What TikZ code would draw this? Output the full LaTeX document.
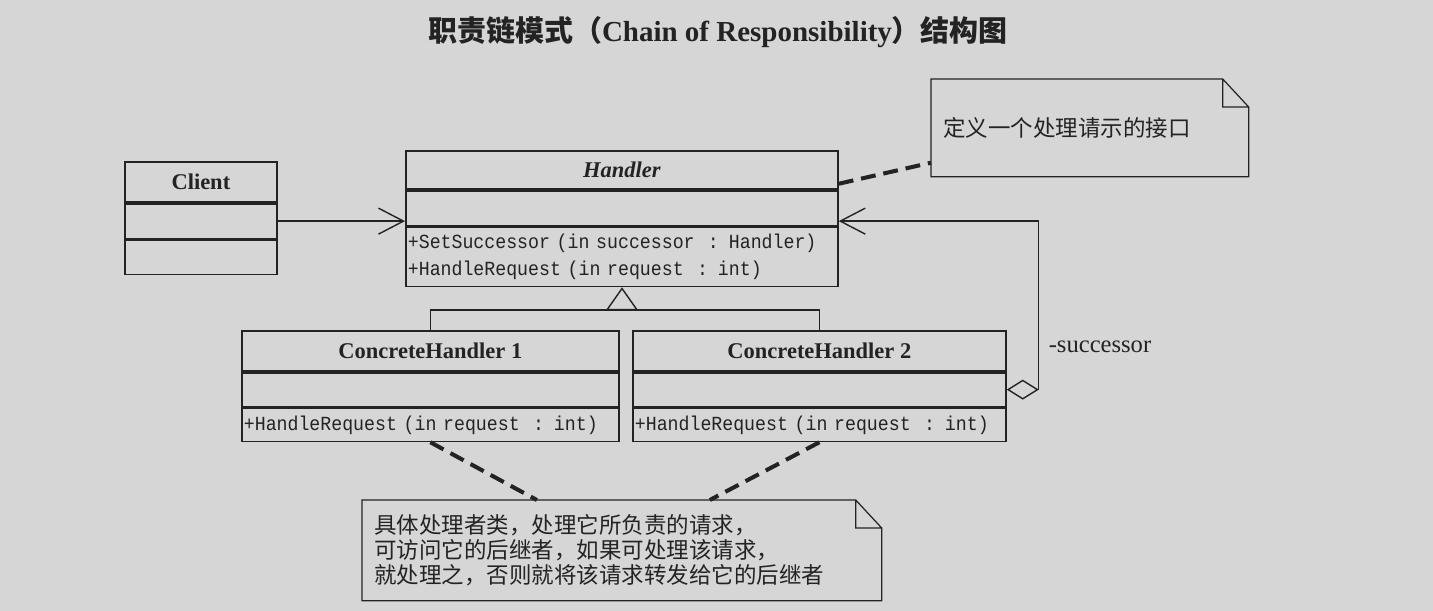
\documentclass[tikz,border=0pt]{standalone}
\usepackage{fontspec}
\setmainfont{Liberation Serif}
\setmonofont[FakeStretch=0.91]{Liberation Mono}
\newfontfamily\cjk{Noto Sans CJK SC}
\usetikzlibrary{arrows.meta}
\definecolor{paper}{RGB}{214,214,214}
\definecolor{ink}{RGB}{35,35,35}
\newcommand\px{0.02cm}
\newcommand\opsfont{\ttfamily\fontsize{11.4pt}{15.3pt}\selectfont}

\begin{document}
\begin{tikzpicture}[
        x = \px, y = -\px,
        part/.style = {draw = ink, line width = 1pt, anchor = north west, inner sep = 0pt, text = ink},
        headfont/.style = {font = \bfseries\fontsize{12.8pt}{15pt}\selectfont},
        ops/.style = {part, align = left, inner xsep = 2*\px, font = \opsfont},
        notebox/.style = {anchor = north west, inner xsep = 12*\px, inner ysep = 0pt, align = left, text = ink, font = \cjk\fontsize{12.8pt}{14.2pt}\selectfont},
        noteline/.style = {draw = ink, line width = 0.7pt},
        link/.style = {draw = ink, line width = 0.8pt},
        anchorline/.style = {draw = ink, line width = 2.3pt, dash pattern = on 8.5pt off 4.5pt}
    ]
        \fill[paper] (0,0) rectangle (1433,611);
        \useasboundingbox (0,0) rectangle (1433,611);

        \node[text = ink, font = \bfseries\fontsize{16.5pt}{19pt}\selectfont] (title) at (718,32) {{\cjk 职责链模式（}Chain of Responsibility{\cjk ）结构图}};

        \node[part, headfont, minimum width = 152*\px, minimum height = 40*\px] (cliname) at (124,161) {Client};
        \node[part, minimum width = 152*\px, minimum height = 35*\px] (cliattr) at (cliname.south west) {};
        \node[part, minimum width = 152*\px, minimum height = 34*\px] (cliops) at (cliattr.south west) {};

        \node[part, headfont, minimum width = 432*\px, minimum height = 38*\px] (hdlname) at (405,150) {\itshape Handler};
        \node[part, minimum width = 432*\px, minimum height = 35*\px] (hdlattr) at (hdlname.south west) {};
        \node[ops, minimum width = 432*\px, minimum height = 59*\px, text width = 428*\px] (hdlops) at (hdlattr.south west) {+SetSuccessor (in successor~~: Handler)\\+HandleRequest (in request~~: int)};

        \node[part, headfont, minimum width = 377*\px, minimum height = 40*\px] (ch1name) at (241,330) {ConcreteHandler 1};
        \node[part, minimum width = 377*\px, minimum height = 34*\px] (ch1attr) at (ch1name.south west) {};
        \node[ops, minimum width = 377*\px, minimum height = 33*\px, text width = 373*\px] (ch1ops) at (ch1attr.south west) {+HandleRequest (in request~~: int)};

        \node[part, headfont, minimum width = 373*\px, minimum height = 40*\px] (ch2name) at (632,330) {ConcreteHandler 2};
        \node[part, minimum width = 373*\px, minimum height = 34*\px] (ch2attr) at (ch2name.south west) {};
        \node[ops, minimum width = 373*\px, minimum height = 33*\px, text width = 369*\px] (ch2ops) at (ch2attr.south west) {+HandleRequest (in request~~: int)};

        \draw[link, -{Straight Barb[length=5mm, width=5.2mm]}] (cliattr.east) -- (cliattr.east -| hdlattr.west);

        \coordinate (junction) at (622,310);
        \draw[link] (ch1name.north) |- (junction) -| (ch2name.north);
        \draw[link, -{Triangle[open, length=4.6mm, width=6.4mm]}] (junction) -- (junction |- hdlops.south);

        \draw[link, {Diamond[open, length=6.4mm, width=4mm]}-{Straight Barb[length=5mm, width=5.2mm]}] (ch2attr.east) -- ++(32,0) |- (cliattr.east -| hdlattr.east);
        \node[text = ink, font = \fontsize{14pt}{16pt}\selectfont] (succlabel) at (1100,347) {-successor};

        \node[notebox, minimum width = 317*\px, minimum height = 97*\px, text width = 293*\px] (note1) at (931,79) {定义一个处理请示的接口};
        \node[notebox, minimum width = 519*\px, minimum height = 100*\px, text width = 495*\px] (note2) at (362,500) {具体处理者类，处理它所负责的请求，\\可访问它的后继者，如果可处理该请求，\\就处理之，否则就将该请求转发给它的后继者};

        \foreach \n in {note1, note2}
            \draw[noteline] (\n.north west) -- ([xshift=-26*\px]\n.north east) -- ([yshift=-28*\px]\n.north east) -- (\n.south east) -- (\n.south west) -- cycle
                ([xshift=-26*\px]\n.north east) |- ([yshift=-28*\px]\n.north east);

        \draw[anchorline] ([yshift=6*\px]hdlname.south east) -- ([yshift=14*\px]note1.south west);
        \draw[anchorline] (ch1ops.south) -- ([xshift=-85*\px]note2.north);
        \draw[anchorline] (ch2ops.south) -- ([xshift=88*\px]note2.north);

    \end{tikzpicture}
\end{document}
